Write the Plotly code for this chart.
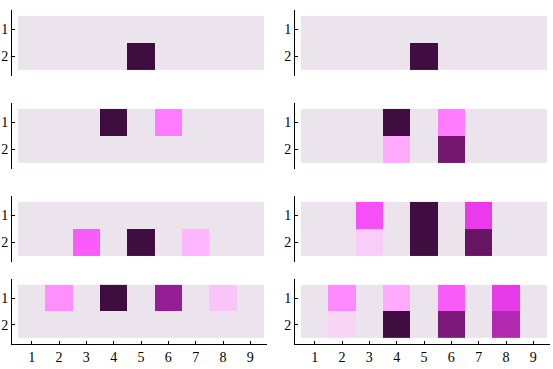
import plotly.graph_objs as go
import numpy as np

# columns and rows of every panel
cols = [1, 2, 3, 4, 5, 6, 7, 8, 9]
rows = [1, 2]

# cell intensity per panel (row 1 on top, row 2 below), 0 = empty
p1 = [[0, 0, 0, 0, 0, 0, 0, 0, 0],
      [0, 0, 0, 0, 1.0, 0, 0, 0, 0]]
p2 = [[0, 0, 0, 0, 0, 0, 0, 0, 0],
      [0, 0, 0, 0, 1.0, 0, 0, 0, 0]]
p3 = [[0, 0, 0, 1.0, 0, 0.40, 0, 0, 0],
      [0, 0, 0, 0, 0, 0, 0, 0, 0]]
p4 = [[0, 0, 0, 1.0, 0, 0.40, 0, 0, 0],
      [0, 0, 0, 0.25, 0, 0.86, 0, 0, 0]]
p5 = [[0, 0, 0, 0, 0, 0, 0, 0, 0],
      [0, 0, 0.48, 0, 1.0, 0, 0.20, 0, 0]]
p6 = [[0, 0, 0.52, 0, 1.0, 0, 0.60, 0, 0],
      [0, 0, 0.10, 0, 1.0, 0, 0.92, 0, 0]]
p7 = [[0, 0.33, 0, 1.0, 0, 0.78, 0, 0.15, 0],
      [0, 0, 0, 0, 0, 0, 0, 0, 0]]
p8 = [[0, 0.35, 0, 0.25, 0, 0.48, 0, 0.62, 0],
      [0, 0.05, 0, 1.0, 0, 0.83, 0, 0.70, 0]]

panels = [p1, p2, p3, p4, p5, p6, p7, p8]

colorscale = [
    [0.0, '#ECE4EC'], [0.03, '#F6DCF3'], [0.05, '#F9D5F5'], [0.10, '#FACDF8'],
    [0.15, '#F9C5F9'], [0.20, '#FFB5FF'], [0.25, '#FFAAFF'], [0.33, '#FF8EFF'],
    [0.40, '#FF7BFF'], [0.48, '#FA5CFA'], [0.52, '#F74FF7'], [0.60, '#E93BE9'],
    [0.62, '#E63BE6'], [0.70, '#B22AB2'], [0.78, '#941E94'], [0.83, '#7B1A7B'],
    [0.86, '#74186F'], [0.92, '#671462'], [1.0, '#3F0D3F'],
]

W, H = 553, 369
# pixel boxes of the plot areas (left, right) and (top, bottom)
xbox = [(12, 267), (295, 550)]
ybox = [(10, 76), (103, 169), (196, 262), (279, 344)]

fig = go.Figure()
font = dict(family='Liberation Serif', size=14, color='black')

for i, z in enumerate(panels):
    r, c = divmod(i, 2)
    n = i + 1
    xa = 'x' if n == 1 else 'x%d' % n
    ya = 'y' if n == 1 else 'y%d' % n
    fig.add_trace(go.Heatmap(
        x=cols, y=rows, z=z, zmin=0, zmax=1,
        colorscale=colorscale, showscale=False,
        xaxis=xa, yaxis=ya, hoverinfo='skip',
    ))
    x0, x1 = xbox[c]
    y0, y1 = ybox[r]
    bottom = (r == 3)
    fig.layout['xaxis' if n == 1 else 'xaxis%d' % n] = dict(
        domain=[x0 / W, x1 / W], anchor=ya, automargin=False,
        range=[0.28, 9.61], tickvals=cols,
        showticklabels=bottom, showline=bottom, linecolor='black', linewidth=1,
        ticks='inside' if bottom else '', ticklen=3, tickcolor='black',
        showgrid=False, zeroline=False, tickfont=font,
    )
    fig.layout['yaxis' if n == 1 else 'yaxis%d' % n] = dict(
        domain=[1 - y1 / H, 1 - y0 / H], anchor=xa, automargin=False,
        range=[2.72, 0.28], tickvals=rows,
        showline=True, linecolor='black', linewidth=1,
        ticks='inside', ticklen=3, tickcolor='black',
        showgrid=False, zeroline=False, tickfont=font,
    )

fig.update_layout(
    width=W, height=H,
    margin=dict(l=0, r=0, t=0, b=0),
    paper_bgcolor='white', plot_bgcolor='white',
    showlegend=False,
)

# page body margin would push the figure off its spot
fig.write_html("out.html", config={'displayModeBar': False},
               post_script="document.body.style.margin='0';"
                           "document.body.style.overflow='hidden';")
